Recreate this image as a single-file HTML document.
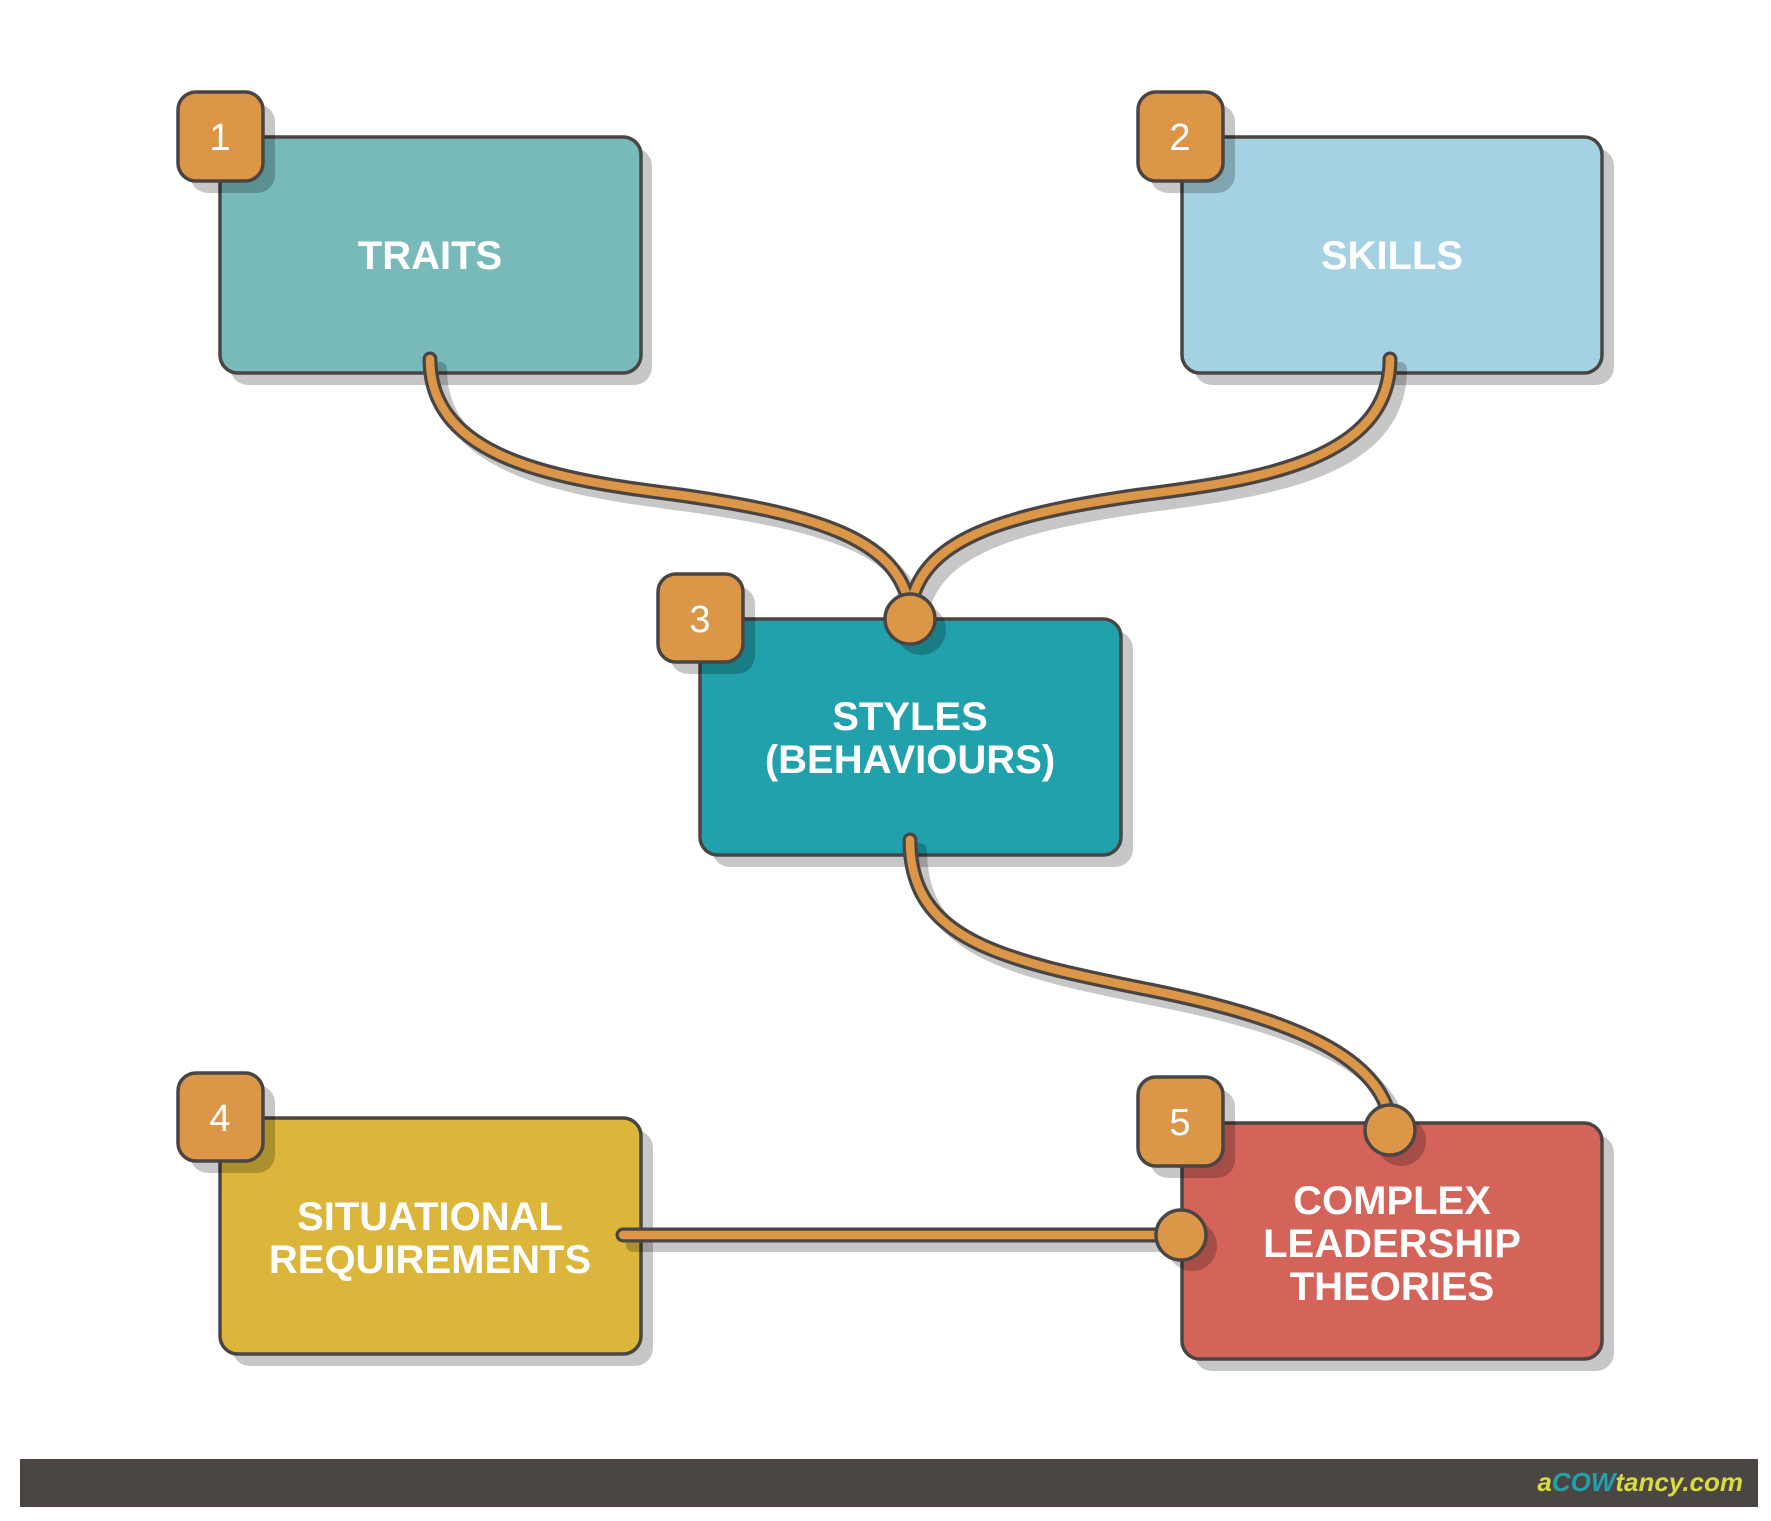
<!DOCTYPE html>
<html><head><meta charset="utf-8"><style>
html,body{margin:0;padding:0;background:#fff;}
svg{display:block}
text{font-family:"Liberation Sans",Arial,sans-serif;}
</style></head><body>
<svg width="1771" height="1521" viewBox="0 0 1771 1521" xmlns="http://www.w3.org/2000/svg">
<g fill="rgba(0,0,0,0.22)">
<rect x="230" y="148" width="422" height="237" rx="18"/>
<rect x="1194" y="148" width="420" height="237" rx="18"/>
<rect x="712" y="631" width="421" height="236" rx="18"/>
<rect x="232" y="1130" width="421" height="236" rx="18"/>
<rect x="1194" y="1135" width="420" height="236" rx="18"/>
</g>
<g stroke="#4a4543" stroke-width="3.5">
<rect x="220" y="137" width="421" height="236" rx="18" fill="#78baba"/>
<rect x="1182" y="137" width="420" height="236" rx="18" fill="#a4d2e2"/>
<rect x="700" y="619" width="421" height="236" rx="18" fill="#21a1ab"/>
<rect x="220" y="1118" width="421" height="236" rx="18" fill="#dbb63a"/>
<rect x="1182" y="1123" width="420" height="236" rx="18" fill="#d4635a"/>
</g>
<!-- connectors -->
<g fill="none" stroke-linecap="round">
<g stroke="rgba(0,0,0,0.22)" stroke-width="14" transform="translate(10,10)">
<path d="M430,359 C430,460 560,480 680,495 C820,515 900,540 910,610"/>
<path d="M1390,359 C1390,460 1260,480 1140,495 C1000,515 920,540 910,610"/>
<path d="M910,840 C910,940 1000,960 1150,990 C1300,1020 1380,1060 1390,1120"/>
<path d="M623,1235 L1181,1235"/>
</g>
<g stroke="#4a4543" stroke-width="15">
<path d="M430,359 C430,460 560,480 680,495 C820,515 900,540 910,610"/>
<path d="M1390,359 C1390,460 1260,480 1140,495 C1000,515 920,540 910,610"/>
<path d="M910,840 C910,940 1000,960 1150,990 C1300,1020 1380,1060 1390,1120"/>
<path d="M623,1235 L1181,1235"/>
</g>
<g stroke="#db9648" stroke-width="8.5">
<path d="M430,359 C430,460 560,480 680,495 C820,515 900,540 910,610"/>
<path d="M1390,359 C1390,460 1260,480 1140,495 C1000,515 920,540 910,610"/>
<path d="M910,840 C910,940 1000,960 1150,990 C1300,1020 1380,1060 1390,1120"/>
<path d="M623,1235 L1181,1235"/>
</g>
</g>
<g fill="rgba(0,0,0,0.22)">
<circle cx="921" cy="630" r="25"/><circle cx="1401" cy="1141" r="25"/><circle cx="1192" cy="1246" r="25"/>
</g>
<g fill="#db9648" stroke="#4a4543" stroke-width="3.5">
<circle cx="910" cy="619" r="25"/><circle cx="1390" cy="1130" r="25"/><circle cx="1181" cy="1235" r="25"/>
</g>
<!-- badges -->
<g fill="rgba(0,0,0,0.22)">
<rect x="190" y="104" width="85" height="89" rx="18"/>
<rect x="1150" y="104" width="85" height="89" rx="18"/>
<rect x="670" y="586" width="85" height="88" rx="18"/>
<rect x="190" y="1085" width="85" height="88" rx="18"/>
<rect x="1150" y="1089" width="85" height="89" rx="18"/>
</g>
<g fill="#db9648" stroke="#4a4543" stroke-width="3.5">
<rect x="178" y="92" width="85" height="89" rx="18"/>
<rect x="1138" y="92" width="85" height="89" rx="18"/>
<rect x="658" y="574" width="85" height="88" rx="18"/>
<rect x="178" y="1073" width="85" height="88" rx="18"/>
<rect x="1138" y="1077" width="85" height="89" rx="18"/>
</g>
<g fill="#fff" font-size="38" text-anchor="middle">
<text x="220" y="150">1</text><text x="1180" y="150">2</text><text x="700" y="632">3</text>
<text x="220" y="1131">4</text><text x="1180" y="1135">5</text>
</g>
<g fill="#fff" font-size="40" font-weight="bold" text-anchor="middle">
<text x="430" y="269">TRAITS</text>
<text x="1392" y="269">SKILLS</text>
<text x="910" y="730">STYLES</text>
<text x="910" y="773">(BEHAVIOURS)</text>
<text x="430" y="1230">SITUATIONAL</text>
<text x="430" y="1273">REQUIREMENTS</text>
<text x="1392" y="1214">COMPLEX</text>
<text x="1392" y="1257">LEADERSHIP</text>
<text x="1392" y="1300">THEORIES</text>
</g>
<rect x="20" y="1459" width="1738" height="48" fill="#4b4643"/>
<text x="1743" y="1491" text-anchor="end" font-size="26" font-weight="bold" font-style="italic" fill="#d7dc3a">a<tspan fill="#21a1ab">COW</tspan>tancy.com</text>
</svg>
</body></html>
